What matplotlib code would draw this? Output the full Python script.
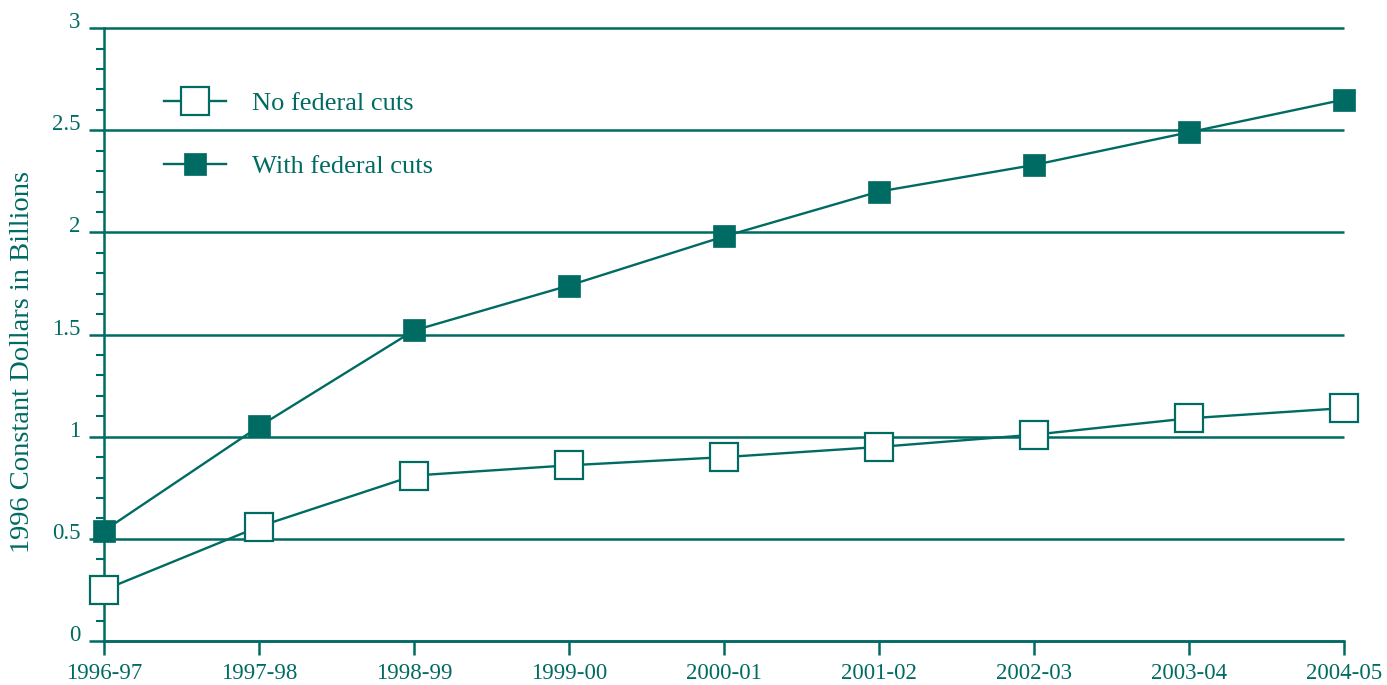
import matplotlib
matplotlib.use("Agg")
import matplotlib.pyplot as plt
from matplotlib.ticker import MultipleLocator

teal = '#006b63'

years = ['1996-97', '1997-98', '1998-99', '1999-00', '2000-01',
         '2001-02', '2002-03', '2003-04', '2004-05']
no_cuts = [0.25, 0.56, 0.81, 0.86, 0.90, 0.95, 1.01, 1.09, 1.14]
with_cuts = [0.54, 1.05, 1.52, 1.74, 1.98, 2.20, 2.33, 2.49, 2.65]

plt.rcParams['font.family'] = ['Liberation Serif', 'DejaVu Serif']
plt.rcParams['font.size'] = 16.5

fig = plt.figure(figsize=(13.87, 6.85), dpi=100)
ax = fig.add_axes([0.075, 0.0642, 0.894, 0.8948])

x = list(range(len(years)))
ax.plot(x, no_cuts, color=teal, lw=1.7, marker='s', ms=20, mfc='white',
        mec=teal, mew=1.6, clip_on=False, zorder=3, label='No federal cuts')
ax.plot(x, with_cuts, color=teal, lw=1.7, marker='s', ms=16, mfc=teal,
        mec=teal, mew=0.5, clip_on=False, zorder=4, label='With federal cuts')

ax.set_xlim(0, len(years) - 1)
ax.set_ylim(0, 3)
ax.set_xticks(x)
ax.set_xticklabels(years)
ax.yaxis.set_minor_locator(MultipleLocator(0.1))
ax.set_yticks([0, 0.5, 1, 1.5, 2, 2.5, 3])
ax.set_yticklabels(['0', '0.5', '1', '1.5', '2', '2.5', '3'])

for side in ['top', 'right']:
    ax.spines[side].set_visible(False)
for side in ['left', 'bottom']:
    ax.spines[side].set_color(teal)
    ax.spines[side].set_linewidth(1.8)

ax.yaxis.grid(True, color=teal, lw=1.8)
for gl in ax.get_ygridlines():
    gl.set_clip_on(False)
    gl.set_solid_capstyle('butt')
ax.set_axisbelow(True)
ax.tick_params(axis='y', which='major', length=11, width=1.8, color=teal,
               labelcolor=teal, pad=6)
ax.tick_params(axis='y', which='minor', length=6, width=1.5, color=teal)
ax.tick_params(axis='x', length=10, width=1.8, color=teal, labelcolor=teal, pad=6)
for lbl in ax.get_yticklabels():
    lbl.set_verticalalignment('baseline')

ax.set_ylabel('1996 Constant Dollars in Billions', color=teal, fontsize=20.5)
ax.yaxis.set_label_coords(-0.056, 0.455)

leg = ax.legend(loc='upper left', bbox_to_anchor=(0.048, 0.896), frameon=False,
                fontsize=19, numpoints=1, handlelength=2.35, handletextpad=1.0,
                labelspacing=1.48, borderpad=0, borderaxespad=0)
for t in leg.get_texts():
    t.set_color(teal)

fig.savefig('out.png', dpi=100)
